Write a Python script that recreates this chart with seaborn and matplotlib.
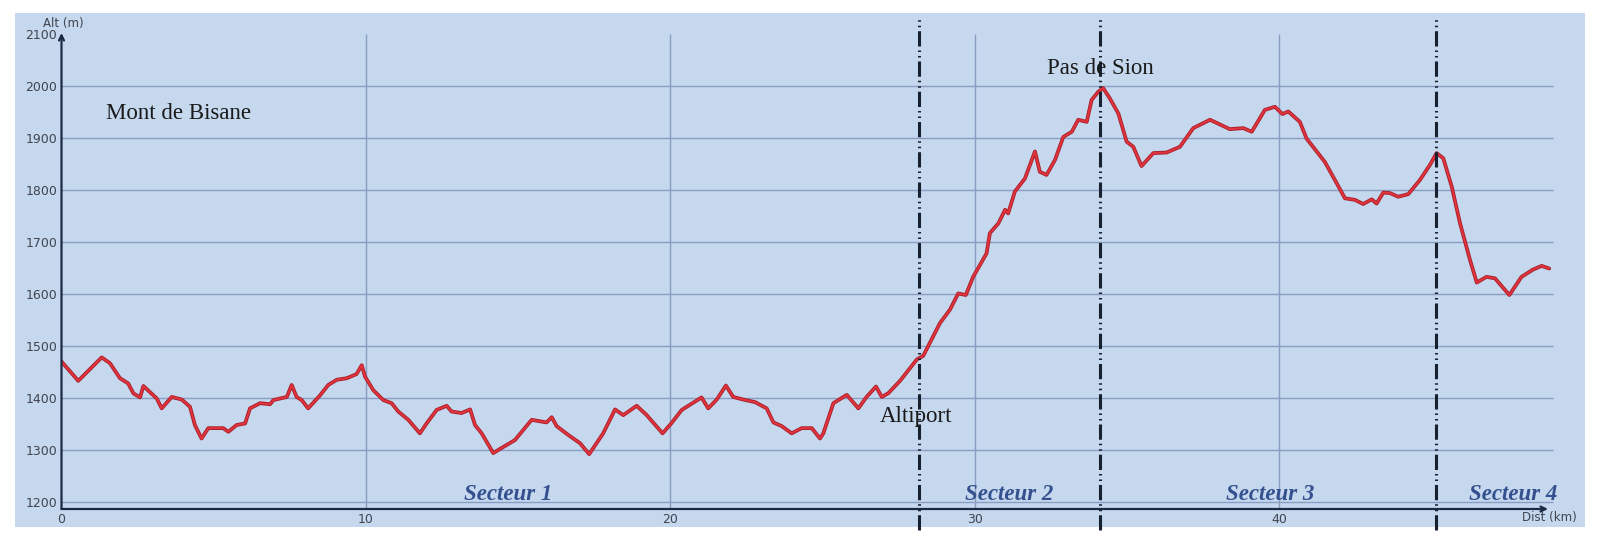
import pandas as pd
import seaborn as sns
import matplotlib.pyplot as plt
import matplotlib.patheffects as pe
from matplotlib.patches import Rectangle

# Profil altimetrique (distance en km, altitude en m)
km = [0.00, 0.55, 1.32, 1.59, 1.92, 2.19, 2.36, 2.58, 2.69, 3.13, 3.29, 3.62, 3.95, 4.22,
      4.38, 4.60, 4.82, 5.31, 5.48, 5.75, 6.03, 6.19, 6.52, 6.85, 6.96, 7.40, 7.56, 7.72,
      7.89, 8.10, 8.49, 8.76, 9.04, 9.37, 9.69, 9.86, 9.97, 10.24, 10.57, 10.84, 11.06,
      11.39, 11.77, 11.99, 12.32, 12.65, 12.81, 13.14, 13.42, 13.58, 13.80, 14.18, 14.40,
      14.89, 15.44, 15.93, 16.10, 16.26, 16.64, 17.03, 17.33, 17.79, 18.18, 18.45, 18.89,
      19.22, 19.74, 20.01, 20.37, 20.64, 21.02, 21.24, 21.52, 21.82, 22.06, 22.39, 22.78,
      23.16, 23.38, 23.65, 23.98, 24.31, 24.64, 24.91, 25.02, 25.35, 25.79, 26.17, 26.44,
      26.75, 26.94, 27.15, 27.54, 28.09, 28.30, 28.85, 29.18, 29.45, 29.70, 29.94, 30.38,
      30.49, 30.77, 30.99, 31.09, 31.31, 31.64, 31.97, 32.13, 32.35, 32.63, 32.90, 33.18,
      33.39, 33.67, 33.83, 34.05, 34.21, 34.43, 34.71, 34.98, 35.20, 35.47, 35.86, 36.29,
      36.73, 37.17, 37.72, 38.37, 38.81, 39.09, 39.52, 39.85, 40.10, 40.29, 40.67, 40.89,
      41.49, 41.88, 42.15, 42.48, 42.75, 43.03, 43.19, 43.41, 43.63, 43.90, 44.23, 44.61,
      44.94, 45.16, 45.38, 45.66, 45.93, 46.26, 46.48, 46.80, 47.08, 47.55, 47.95, 48.33,
      48.61, 48.86]
alt = [1470, 1433, 1478, 1467, 1438, 1428, 1409, 1401, 1423, 1399, 1380, 1402, 1397, 1383,
       1348, 1322, 1342, 1342, 1335, 1348, 1351, 1380, 1390, 1388, 1396, 1402, 1425, 1402,
       1396, 1380, 1405, 1425, 1435, 1438, 1446, 1463, 1441, 1415, 1396, 1390, 1374,
       1358, 1332, 1351, 1377, 1385, 1374, 1371, 1378, 1348, 1332, 1294, 1302,
       1319, 1358, 1353, 1363, 1346, 1329, 1313, 1292, 1332, 1378, 1367, 1385,
       1367, 1332, 1350, 1377, 1387, 1401, 1380, 1397, 1424, 1402, 1397, 1392,
       1380, 1353, 1346, 1332, 1342, 1342, 1322, 1332, 1390, 1406, 1380, 1402,
       1422, 1402, 1409, 1433, 1474, 1481, 1544, 1570, 1601, 1598, 1633, 1678,
       1717, 1736, 1762, 1755, 1797, 1822, 1874, 1835, 1829, 1858, 1902, 1912,
       1935, 1931, 1973, 1989, 1996, 1976, 1947, 1893, 1883, 1846, 1871, 1872,
       1883, 1919, 1935, 1917, 1919, 1912, 1954, 1960, 1946, 1951, 1931, 1899,
       1854, 1813, 1784, 1781, 1773, 1782, 1774, 1795, 1794, 1787, 1792, 1819,
       1848, 1871, 1861, 1806, 1736, 1665, 1622, 1633, 1630, 1598, 1633, 1647,
       1654, 1649]

x_ticks = [0, 10, 20, 30, 40]
y_ticks = [1200, 1300, 1400, 1500, 1600, 1700, 1800, 1900, 2000, 2100]

# limites de secteurs
sector_bounds = [28.16, 34.10, 45.13]
sector_names = ['Secteur 1', 'Secteur 2', 'Secteur 3', 'Secteur 4']
sector_pos = [14.67, 31.12, 39.69, 47.67]

# lieux
places = ['Mont de Bisane', 'Pas de Sion', 'Altiport']
place_km = [1.46, 32.35, 26.88]
place_alt = [1936, 2023, 1354]

df = pd.DataFrame({'km': km, 'alt': alt})

sns.set_style('white')
plt.rcParams['font.family'] = ['DejaVu Sans']

fig = plt.figure(figsize=(15.98, 5.57), dpi=100)
fig.patches.append(Rectangle((15 / 1598, 30 / 557), 1570 / 1598, 514 / 557,
                             transform=fig.transFigure, facecolor='#c5d8ee',
                             edgecolor='none', zorder=-10))

ax = fig.add_axes([61.5 / 1598, 48 / 557, 1492 / 1598, 476 / 557])
ax.set_zorder(1)
ax.patch.set_alpha(0)
ax.set_xlim(0, 49.0)
ax.set_ylim(1186.5, 2101.9)

# grille
grid_col = '#8b9dc2'
ax.hlines(y_ticks[:-1], 0, 49.0, color=grid_col, lw=1.0, zorder=1)
ax.vlines(x_ticks[1:], 1186.5, 2100, color=grid_col, lw=1.0, zorder=1)

sns.lineplot(data=df, x='km', y='alt', ax=ax, color='#e2343c', lw=1.4, zorder=3,
             path_effects=[pe.Stroke(linewidth=2.7, foreground='#a81f2c'), pe.Normal()])

for b in sector_bounds:
    ax.axvline(b, ymin=-0.044, ymax=1.036, clip_on=False, color='#17202e', lw=2.2,
               ls=(0, (5, 1.3, 0.5, 1.3, 0.5, 1.3)), zorder=4)

# axes avec fleches
for tip in [(0, 1.0), (0.9963, 0)]:
    ax.annotate('', xy=tip, xytext=(0, 0), xycoords='axes fraction',
                arrowprops=dict(arrowstyle='->', color='#1b2a44', lw=1.6,
                                shrinkA=0, shrinkB=0, mutation_scale=9))
for s in ax.spines.values():
    s.set_visible(False)

ax.set_xticks(x_ticks)
ax.set_yticks(y_ticks)
ax.tick_params(length=0, labelsize=9, labelcolor='#40444f', pad=3)
ax.set_xlabel('')
ax.set_ylabel('')

fig.text(43 / 1598, 1 - 24 / 557, 'Alt (m)', fontsize=8.5, color='#40444f', va='center')
fig.text(1522 / 1598, 1 - 518 / 557, 'Dist (km)', fontsize=8.5, color='#40444f', va='center')

for name, x, y in zip(places, place_km, place_alt):
    ax.text(x, y, name, family='Liberation Serif', fontsize=16.5, color='#1a1a1a',
            va='baseline', ha='left', zorder=5)

for name, x in zip(sector_names, sector_pos):
    ax.text(x, 1204, name, family='Liberation Serif', fontsize=16.5, fontweight='bold',
            fontstyle='italic', color='#34508f', ha='center', va='baseline', zorder=5)

fig.savefig('out.png', dpi=100)
